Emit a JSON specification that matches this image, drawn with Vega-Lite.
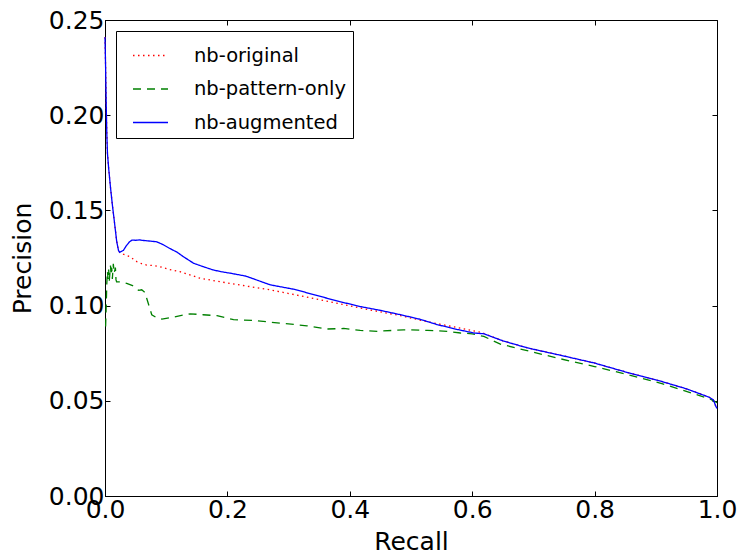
{
  "$schema": "https://vega.github.io/schema/vega-lite/v6.json",
  "autosize": {"type": "none"},
  "padding": {"left": 105, "top": 20, "right": 25, "bottom": 60},
  "width": 612,
  "height": 476,
  "background": "white",
  "config": {
    "view": {"stroke": "black", "strokeWidth": 1},
    "font": "DejaVu Sans",
    "axis": {
      "grid": false,
      "labelFont": "DejaVu Sans",
      "labelFontSize": 25,
      "labelColor": "black",
      "titleFont": "DejaVu Sans",
      "titleFontSize": 25,
      "titleFontWeight": "normal",
      "titleColor": "black",
      "tickColor": "black",
      "domainColor": "black",
      "tickSize": -5,
      "labelOverlap": false,
      "labelFlush": false,
      "labelBound": false
    },
    "legend": {
      "orient": "top-left",
      "offset": 11,
      "padding": 6,
      "symbolOffset": 10,
      "strokeColor": "black",
      "fillColor": "white",
      "cornerRadius": 0,
      "rowPadding": 5.5,
      "symbolType": "stroke",
      "symbolSize": 1225,
      "symbolStrokeWidth": 1.3,
      "labelFont": "DejaVu Sans",
      "labelFontSize": 19.5,
      "labelColor": "black",
      "labelOffset": 25,
      "labelLimit": 300
    }
  },
  "datasets": {
    "pr": [
      {"m": "nb-original", "r": 0, "p": 0.241},
      {"m": "nb-original", "r": 0.001, "p": 0.225},
      {"m": "nb-original", "r": 0.002, "p": 0.205},
      {"m": "nb-original", "r": 0.003, "p": 0.19},
      {"m": "nb-original", "r": 0.004, "p": 0.18},
      {"m": "nb-original", "r": 0.006, "p": 0.172},
      {"m": "nb-original", "r": 0.009, "p": 0.162},
      {"m": "nb-original", "r": 0.012, "p": 0.153},
      {"m": "nb-original", "r": 0.015, "p": 0.145},
      {"m": "nb-original", "r": 0.019, "p": 0.134},
      {"m": "nb-original", "r": 0.022, "p": 0.129},
      {"m": "nb-original", "r": 0.024, "p": 0.128},
      {"m": "nb-original", "r": 0.03, "p": 0.127},
      {"m": "nb-original", "r": 0.041, "p": 0.1257},
      {"m": "nb-original", "r": 0.046, "p": 0.1245},
      {"m": "nb-original", "r": 0.052, "p": 0.1231},
      {"m": "nb-original", "r": 0.06, "p": 0.122},
      {"m": "nb-original", "r": 0.068, "p": 0.1213},
      {"m": "nb-original", "r": 0.08, "p": 0.121},
      {"m": "nb-original", "r": 0.09, "p": 0.1204},
      {"m": "nb-original", "r": 0.105, "p": 0.119},
      {"m": "nb-original", "r": 0.1227, "p": 0.1178},
      {"m": "nb-original", "r": 0.14, "p": 0.116},
      {"m": "nb-original", "r": 0.155, "p": 0.1144},
      {"m": "nb-original", "r": 0.18, "p": 0.113},
      {"m": "nb-original", "r": 0.205, "p": 0.1116},
      {"m": "nb-original", "r": 0.27, "p": 0.1083},
      {"m": "nb-original", "r": 0.352, "p": 0.103},
      {"m": "nb-original", "r": 0.417, "p": 0.0987},
      {"m": "nb-original", "r": 0.483, "p": 0.0947},
      {"m": "nb-original", "r": 0.52, "p": 0.092},
      {"m": "nb-original", "r": 0.57, "p": 0.0888},
      {"m": "nb-original", "r": 0.614, "p": 0.086},
      {"m": "nb-original", "r": 0.65, "p": 0.0815},
      {"m": "nb-original", "r": 0.69, "p": 0.0778},
      {"m": "nb-original", "r": 0.75, "p": 0.0735},
      {"m": "nb-original", "r": 0.799, "p": 0.0699},
      {"m": "nb-original", "r": 0.85, "p": 0.0652},
      {"m": "nb-original", "r": 0.908, "p": 0.0603},
      {"m": "nb-original", "r": 0.95, "p": 0.0563},
      {"m": "nb-original", "r": 0.987, "p": 0.0519},
      {"m": "nb-original", "r": 0.994, "p": 0.0505},
      {"m": "nb-original", "r": 0.998, "p": 0.0472},
      {"m": "nb-original", "r": 1.0, "p": 0.046},

      {"m": "nb-pattern-only", "r": 0.001, "p": 0.089},
      {"m": "nb-pattern-only", "r": 0.002, "p": 0.1},
      {"m": "nb-pattern-only", "r": 0.003, "p": 0.112},
      {"m": "nb-pattern-only", "r": 0.004, "p": 0.118},
      {"m": "nb-pattern-only", "r": 0.005, "p": 0.114},
      {"m": "nb-pattern-only", "r": 0.006, "p": 0.119},
      {"m": "nb-pattern-only", "r": 0.007, "p": 0.113},
      {"m": "nb-pattern-only", "r": 0.008, "p": 0.117},
      {"m": "nb-pattern-only", "r": 0.009, "p": 0.121},
      {"m": "nb-pattern-only", "r": 0.01, "p": 0.116},
      {"m": "nb-pattern-only", "r": 0.011, "p": 0.12},
      {"m": "nb-pattern-only", "r": 0.012, "p": 0.114},
      {"m": "nb-pattern-only", "r": 0.0136, "p": 0.122},
      {"m": "nb-pattern-only", "r": 0.015, "p": 0.117},
      {"m": "nb-pattern-only", "r": 0.017, "p": 0.12},
      {"m": "nb-pattern-only", "r": 0.018, "p": 0.1135},
      {"m": "nb-pattern-only", "r": 0.019, "p": 0.1125},
      {"m": "nb-pattern-only", "r": 0.025, "p": 0.1125},
      {"m": "nb-pattern-only", "r": 0.0355, "p": 0.1117},
      {"m": "nb-pattern-only", "r": 0.045, "p": 0.1105},
      {"m": "nb-pattern-only", "r": 0.055, "p": 0.108},
      {"m": "nb-pattern-only", "r": 0.06, "p": 0.1083},
      {"m": "nb-pattern-only", "r": 0.065, "p": 0.107},
      {"m": "nb-pattern-only", "r": 0.068, "p": 0.104},
      {"m": "nb-pattern-only", "r": 0.0764, "p": 0.0952},
      {"m": "nb-pattern-only", "r": 0.085, "p": 0.0935},
      {"m": "nb-pattern-only", "r": 0.093, "p": 0.0929},
      {"m": "nb-pattern-only", "r": 0.112, "p": 0.094},
      {"m": "nb-pattern-only", "r": 0.139, "p": 0.0957},
      {"m": "nb-pattern-only", "r": 0.16, "p": 0.0952},
      {"m": "nb-pattern-only", "r": 0.183, "p": 0.0947},
      {"m": "nb-pattern-only", "r": 0.21, "p": 0.0926},
      {"m": "nb-pattern-only", "r": 0.243, "p": 0.0922},
      {"m": "nb-pattern-only", "r": 0.286, "p": 0.0908},
      {"m": "nb-pattern-only", "r": 0.33, "p": 0.0894},
      {"m": "nb-pattern-only", "r": 0.363, "p": 0.0877},
      {"m": "nb-pattern-only", "r": 0.39, "p": 0.088},
      {"m": "nb-pattern-only", "r": 0.417, "p": 0.087},
      {"m": "nb-pattern-only", "r": 0.445, "p": 0.0865},
      {"m": "nb-pattern-only", "r": 0.488, "p": 0.0873},
      {"m": "nb-pattern-only", "r": 0.527, "p": 0.087},
      {"m": "nb-pattern-only", "r": 0.559, "p": 0.0865},
      {"m": "nb-pattern-only", "r": 0.581, "p": 0.0856},
      {"m": "nb-pattern-only", "r": 0.6, "p": 0.0852},
      {"m": "nb-pattern-only", "r": 0.619, "p": 0.0838},
      {"m": "nb-pattern-only", "r": 0.646, "p": 0.0798},
      {"m": "nb-pattern-only", "r": 0.7, "p": 0.0755},
      {"m": "nb-pattern-only", "r": 0.745, "p": 0.072},
      {"m": "nb-pattern-only", "r": 0.8, "p": 0.068},
      {"m": "nb-pattern-only", "r": 0.854, "p": 0.0638},
      {"m": "nb-pattern-only", "r": 0.91, "p": 0.059},
      {"m": "nb-pattern-only", "r": 0.974, "p": 0.0525},
      {"m": "nb-pattern-only", "r": 0.99, "p": 0.0507},
      {"m": "nb-pattern-only", "r": 1.0, "p": 0.049},

      {"m": "nb-augmented", "r": 0, "p": 0.241},
      {"m": "nb-augmented", "r": 0.001, "p": 0.225},
      {"m": "nb-augmented", "r": 0.002, "p": 0.205},
      {"m": "nb-augmented", "r": 0.003, "p": 0.19},
      {"m": "nb-augmented", "r": 0.004, "p": 0.18},
      {"m": "nb-augmented", "r": 0.006, "p": 0.172},
      {"m": "nb-augmented", "r": 0.009, "p": 0.162},
      {"m": "nb-augmented", "r": 0.012, "p": 0.153},
      {"m": "nb-augmented", "r": 0.015, "p": 0.145},
      {"m": "nb-augmented", "r": 0.019, "p": 0.134},
      {"m": "nb-augmented", "r": 0.022, "p": 0.129},
      {"m": "nb-augmented", "r": 0.024, "p": 0.128},
      {"m": "nb-augmented", "r": 0.027, "p": 0.1285},
      {"m": "nb-augmented", "r": 0.03, "p": 0.129},
      {"m": "nb-augmented", "r": 0.035, "p": 0.1315},
      {"m": "nb-augmented", "r": 0.04, "p": 0.1335},
      {"m": "nb-augmented", "r": 0.044, "p": 0.1344},
      {"m": "nb-augmented", "r": 0.05, "p": 0.1343},
      {"m": "nb-augmented", "r": 0.056, "p": 0.1345},
      {"m": "nb-augmented", "r": 0.063, "p": 0.1342},
      {"m": "nb-augmented", "r": 0.07, "p": 0.134},
      {"m": "nb-augmented", "r": 0.0846, "p": 0.1335},
      {"m": "nb-augmented", "r": 0.095, "p": 0.132},
      {"m": "nb-augmented", "r": 0.106, "p": 0.13},
      {"m": "nb-augmented", "r": 0.118, "p": 0.128},
      {"m": "nb-augmented", "r": 0.128, "p": 0.1257},
      {"m": "nb-augmented", "r": 0.145, "p": 0.1222},
      {"m": "nb-augmented", "r": 0.16, "p": 0.1205},
      {"m": "nb-augmented", "r": 0.177, "p": 0.1187},
      {"m": "nb-augmented", "r": 0.19, "p": 0.1178},
      {"m": "nb-augmented", "r": 0.205, "p": 0.117},
      {"m": "nb-augmented", "r": 0.23, "p": 0.1155},
      {"m": "nb-augmented", "r": 0.27, "p": 0.1109},
      {"m": "nb-augmented", "r": 0.31, "p": 0.1085},
      {"m": "nb-augmented", "r": 0.352, "p": 0.1048},
      {"m": "nb-augmented", "r": 0.385, "p": 0.102},
      {"m": "nb-augmented", "r": 0.417, "p": 0.0995},
      {"m": "nb-augmented", "r": 0.45, "p": 0.0975},
      {"m": "nb-augmented", "r": 0.483, "p": 0.0952},
      {"m": "nb-augmented", "r": 0.515, "p": 0.0928},
      {"m": "nb-augmented", "r": 0.543, "p": 0.09},
      {"m": "nb-augmented", "r": 0.575, "p": 0.0875},
      {"m": "nb-augmented", "r": 0.603, "p": 0.0856},
      {"m": "nb-augmented", "r": 0.619, "p": 0.0852},
      {"m": "nb-augmented", "r": 0.65, "p": 0.0815},
      {"m": "nb-augmented", "r": 0.69, "p": 0.0778},
      {"m": "nb-augmented", "r": 0.75, "p": 0.0735},
      {"m": "nb-augmented", "r": 0.799, "p": 0.0699},
      {"m": "nb-augmented", "r": 0.85, "p": 0.0652},
      {"m": "nb-augmented", "r": 0.908, "p": 0.0603},
      {"m": "nb-augmented", "r": 0.95, "p": 0.0563},
      {"m": "nb-augmented", "r": 0.987, "p": 0.0519},
      {"m": "nb-augmented", "r": 0.994, "p": 0.0505},
      {"m": "nb-augmented", "r": 0.998, "p": 0.0472},
      {"m": "nb-augmented", "r": 1.0, "p": 0.046}
    ]
  },
  "data": {"name": "pr"},
  "resolve": {"axis": {"x": "independent", "y": "independent"}},
  "layer": [
    {
      "transform": [{"filter": "datum.m === 'nb-original'"}],
      "mark": {"type": "line", "strokeWidth": 1.3, "interpolate": "linear"},
      "encoding": {
        "x": {"field": "r", "type": "quantitative", "scale": {"domain": [0, 1], "nice": false},
              "axis": {"title": "Recall", "values": [0, 0.2, 0.4, 0.6, 0.8, 1.0], "format": ".1f", "labelPadding": 6, "titlePadding": 7}},
        "y": {"field": "p", "type": "quantitative", "scale": {"domain": [0, 0.25], "nice": false},
              "axis": {"title": "Precision", "values": [0, 0.05, 0.1, 0.15, 0.2, 0.25], "format": ".2f", "labelPadding": 6, "titlePadding": 13}},
        "color": {"field": "m", "type": "nominal",
                  "scale": {"domain": ["nb-original", "nb-pattern-only", "nb-augmented"], "range": ["#ff0000", "#008000", "#0000ff"]},
                  "legend": {"title": null}},
        "strokeDash": {"field": "m", "type": "nominal",
                  "scale": {"domain": ["nb-original", "nb-pattern-only", "nb-augmented"], "range": [[1.5, 3.5], [8, 6], [1, 0]]},
                  "legend": {"title": null}}
      }
    },
    {
      "transform": [{"filter": "datum.m === 'nb-pattern-only'"}],
      "mark": {"type": "line", "strokeWidth": 1.3},
      "encoding": {
        "x": {"field": "r", "type": "quantitative", "axis": null},
        "y": {"field": "p", "type": "quantitative", "axis": null},
        "color": {"field": "m", "type": "nominal", "legend": {"title": null}},
        "strokeDash": {"field": "m", "type": "nominal", "legend": {"title": null}}
      }
    },
    {
      "transform": [{"filter": "datum.m === 'nb-augmented'"}],
      "mark": {"type": "line", "strokeWidth": 1.3},
      "encoding": {
        "x": {"field": "r", "type": "quantitative", "axis": null},
        "y": {"field": "p", "type": "quantitative", "axis": null},
        "color": {"field": "m", "type": "nominal", "legend": {"title": null}},
        "strokeDash": {"field": "m", "type": "nominal", "legend": {"title": null}}
      }
    },
    {
      "mark": {"type": "line", "opacity": 0},
      "encoding": {
        "x": {"field": "r", "type": "quantitative",
              "axis": {"orient": "top", "labels": false, "title": null, "domain": false, "values": [0, 0.2, 0.4, 0.6, 0.8, 1.0]}},
        "y": {"field": "p", "type": "quantitative",
              "axis": {"orient": "right", "labels": false, "title": null, "domain": false, "values": [0, 0.05, 0.1, 0.15, 0.2, 0.25]}}
      }
    }
  ]
}
